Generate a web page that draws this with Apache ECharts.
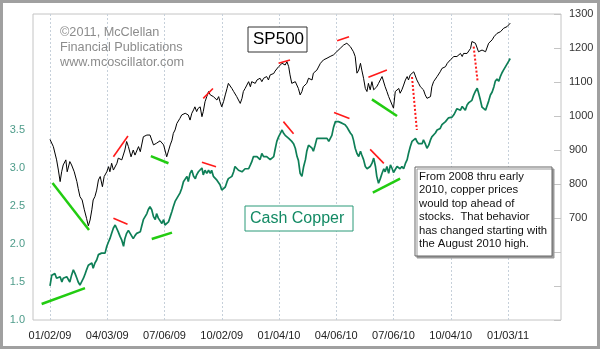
<!DOCTYPE html>
<html><head><meta charset="utf-8">
<script src="https://cdn.jsdelivr.net/npm/echarts@6/dist/echarts.min.js"></script>
<style>html,body{margin:0;padding:0;background:#fff}#c{width:600px;height:349px}</style>
</head><body><div id="c"></div>
<script>
// x = weeks since 01/02/09
const tickWeeks = [0,13,26,39,52,65,78,91,104];
const tickLabels = ['01/02/09','04/03/09','07/06/09','10/02/09','01/04/10','04/06/10','07/06/10','10/04/10','01/03/11'];

const spx500 = [[0,931],[0.76,910],[1.5,871],[1.9,841],[2.3,807],[2.65,836],[3.0,856],[3.6,871],[3.9,836],[4.5,866],[4.9,856],[5.5,836],[6.1,807],[6.4,787],[6.8,763],[7.3,753],[7.8,724],[8.3,699],[8.7,677],[9.1,694],[9.5,724],[9.8,753],[10.2,763],[10.6,782],[11.0,812],[11.4,822],[11.9,792],[12.3,822],[12.9,836],[13.3,851],[13.6,836],[14.0,861],[14.4,841],[15.2,861],[15.5,876],[16.3,871],[17.0,900],[17.4,925],[17.8,910],[18.4,880],[18.9,900],[19.3,885],[20.1,910],[20.5,895],[21.2,939],[22.0,944],[22.7,944],[23.5,915],[24.2,920],[25.0,927],[25.8,915],[26.5,880],[26.9,885],[27.3,915],[27.7,929],[28.0,949],[28.4,959],[28.8,978],[29.2,983],[29.5,993],[29.9,1003],[30.3,998],[30.7,1008],[31.1,1013],[31.4,1003],[31.8,988],[32.2,1008],[32.6,1018],[32.9,1027],[33.3,1013],[33.6,1022],[34.1,1027],[34.5,998],[34.8,1013],[35.2,1042],[35.6,1057],[36.0,1072],[36.4,1062],[36.7,1067],[37.1,1057],[37.5,1062],[37.9,1047],[38.3,1057],[38.6,1042],[39.0,1027],[39.4,1042],[39.8,1062],[40.2,1081],[40.5,1096],[40.9,1096],[41.3,1081],[41.7,1072],[42.0,1067],[42.4,1057],[42.8,1047],[43.2,1037],[43.6,1052],[43.9,1072],[44.3,1081],[44.7,1091],[45.1,1101],[45.5,1086],[45.8,1101],[46.2,1106],[46.6,1096],[47.0,1106],[47.3,1101],[47.7,1111],[48.1,1101],[48.5,1111],[48.9,1106],[49.2,1116],[49.6,1106],[50.0,1121],[50.4,1116],[50.8,1125],[51.1,1132],[51.5,1127],[51.9,1145],[52.3,1150],[52.7,1155],[53.4,1150],[53.8,1160],[54.2,1145],[54.5,1121],[54.9,1096],[55.3,1091],[55.7,1101],[56.1,1096],[56.4,1081],[56.8,1062],[57.2,1072],[57.5,1086],[58.3,1096],[58.7,1111],[59.5,1106],[59.8,1126],[60.6,1135],[61.4,1155],[62.1,1165],[62.9,1170],[63.6,1175],[64.4,1180],[65.1,1189],[65.9,1199],[66.7,1209],[67.4,1214],[67.8,1217],[68.2,1204],[68.5,1209],[68.9,1189],[69.3,1175],[69.7,1126],[70.1,1135],[70.5,1155],[70.8,1135],[71.2,1111],[71.6,1081],[71.97,1072],[72.3,1096],[72.7,1077],[73.1,1101],[73.5,1077],[73.9,1072],[74.2,1086],[74.6,1096],[75.0,1106],[75.4,1116],[75.8,1111],[76.1,1086],[76.5,1072],[76.9,1057],[77.3,1055],[77.7,1032],[78.0,1023],[78.4,1072],[78.8,1077],[79.2,1081],[79.5,1067],[79.9,1077],[80.3,1091],[80.7,1106],[81.1,1116],[81.4,1106],[81.8,1121],[82.2,1121],[82.6,1130],[82.9,1126],[83.3,1106],[83.7,1096],[84.1,1086],[84.5,1091],[84.8,1077],[85.2,1062],[85.6,1052],[86.0,1049],[86.4,1057],[86.7,1086],[87.1,1101],[87.5,1096],[87.9,1116],[88.3,1111],[88.6,1130],[89.0,1140],[89.4,1135],[89.8,1145],[90.2,1155],[90.5,1150],[90.9,1165],[91.3,1165],[91.7,1175],[92.1,1170],[92.4,1175],[92.8,1180],[93.2,1184],[93.6,1175],[93.9,1184],[94.3,1186],[94.7,1184],[95.1,1189],[95.5,1199],[95.8,1219],[96.2,1224],[96.6,1214],[97.0,1209],[97.3,1189],[97.7,1184],[98.1,1194],[98.5,1194],[98.9,1189],[99.2,1184],[99.6,1214],[100.0,1219],[100.4,1224],[100.8,1233],[101.1,1238],[101.5,1243],[101.9,1238],[102.3,1248],[102.7,1253],[103.0,1258],[103.4,1261],[103.8,1263],[104.2,1268],[104.5,1273]];

const cashCopper = [[0,1.45],[0.4,1.59],[0.8,1.57],[1.1,1.61],[1.5,1.55],[1.9,1.53],[2.3,1.57],[2.7,1.50],[3.0,1.55],[3.4,1.53],[3.8,1.57],[4.2,1.53],[4.5,1.50],[4.9,1.59],[5.3,1.66],[5.7,1.61],[6.1,1.55],[6.4,1.50],[6.8,1.46],[7.2,1.48],[7.6,1.55],[8.0,1.61],[8.3,1.66],[8.7,1.72],[9.1,1.70],[9.5,1.75],[9.8,1.68],[10.2,1.75],[10.6,1.79],[11.0,1.86],[11.4,1.88],[11.7,1.88],[12.1,1.86],[12.5,1.88],[12.9,1.97],[13.3,2.03],[13.6,2.07],[14.0,2.14],[14.4,2.21],[14.8,2.25],[15.2,2.23],[15.5,2.16],[15.9,2.10],[16.3,2.05],[16.7,1.97],[17.0,2.07],[17.4,2.14],[17.8,2.18],[18.2,2.14],[18.6,2.10],[18.9,2.07],[19.3,2.11],[19.7,2.14],[20.1,2.12],[20.5,2.16],[20.8,2.23],[21.2,2.32],[21.6,2.36],[22.0,2.40],[22.3,2.45],[22.7,2.49],[23.1,2.45],[23.5,2.36],[23.9,2.32],[24.2,2.40],[24.6,2.34],[25.0,2.36],[25.4,2.27],[25.8,2.32],[26.1,2.25],[26.5,2.23],[26.9,2.29],[27.3,2.36],[27.7,2.43],[28.0,2.49],[28.4,2.56],[28.8,2.60],[29.1,2.62],[29.5,2.67],[29.9,2.73],[30.3,2.82],[30.7,2.84],[31.1,2.89],[31.4,2.82],[31.8,2.93],[32.2,2.97],[32.6,2.89],[33.0,2.86],[33.3,2.91],[33.7,2.95],[34.1,2.93],[34.5,3.00],[34.8,2.91],[35.2,2.97],[35.6,2.93],[36.0,2.97],[36.4,2.93],[36.7,2.97],[37.1,2.89],[37.5,2.91],[37.9,2.84],[38.3,2.82],[38.6,2.78],[39.0,2.71],[39.4,2.69],[39.8,2.75],[40.2,2.82],[40.5,2.86],[40.9,2.84],[41.3,2.89],[41.7,2.95],[42.0,3.02],[42.4,3.04],[42.8,2.97],[43.2,2.99],[43.6,2.95],[43.9,2.97],[44.3,2.99],[44.7,2.97],[45.1,2.99],[45.5,3.04],[45.8,3.08],[46.2,3.15],[46.6,3.17],[47.0,3.15],[47.3,3.13],[47.7,3.11],[48.1,3.19],[48.5,3.15],[48.9,3.13],[49.2,3.15],[49.6,3.13],[50.0,3.11],[50.4,3.13],[50.8,3.15],[51.1,3.24],[51.5,3.35],[51.9,3.41],[52.3,3.43],[52.7,3.50],[53.0,3.46],[53.4,3.43],[53.8,3.41],[54.2,3.39],[54.5,3.39],[54.9,3.35],[55.3,3.32],[55.7,3.26],[56.1,3.15],[56.4,3.10],[56.8,2.93],[57.2,2.89],[57.6,3.02],[58.0,3.11],[58.3,3.22],[58.7,3.30],[59.1,3.32],[59.5,3.26],[59.8,3.22],[60.2,3.30],[60.6,3.39],[61.0,3.41],[61.4,3.39],[61.7,3.41],[62.1,3.39],[62.5,3.37],[62.9,3.39],[63.3,3.35],[63.6,3.37],[64.0,3.43],[64.4,3.54],[64.8,3.61],[65.2,3.63],[65.5,3.61],[65.9,3.63],[66.3,3.59],[66.7,3.61],[67.0,3.57],[67.4,3.54],[67.8,3.50],[68.2,3.46],[68.6,3.43],[68.9,3.37],[69.3,3.26],[69.7,3.19],[70.1,3.15],[70.5,3.22],[70.8,3.17],[71.2,3.11],[71.6,3.02],[72.0,2.99],[72.3,2.97],[72.7,3.02],[73.1,3.06],[73.5,3.13],[73.9,3.02],[74.2,2.89],[74.6,2.80],[75.0,2.86],[75.4,2.93],[75.8,2.99],[76.1,2.95],[76.5,3.02],[76.9,2.93],[77.3,3.04],[77.7,2.99],[78.0,2.94],[78.4,2.96],[78.8,3.02],[79.2,3.04],[79.5,2.99],[79.9,3.02],[80.3,2.99],[80.7,3.06],[81.1,3.11],[81.4,3.19],[81.8,3.28],[82.2,3.35],[82.6,3.37],[83.0,3.39],[83.3,3.35],[83.7,3.32],[84.1,3.30],[84.5,3.32],[84.8,3.37],[85.2,3.32],[85.6,3.26],[86.0,3.30],[86.4,3.37],[86.7,3.41],[87.1,3.43],[87.5,3.46],[87.9,3.50],[88.3,3.48],[88.6,3.52],[89.0,3.57],[89.4,3.59],[89.8,3.61],[90.2,3.63],[90.5,3.66],[90.9,3.68],[91.3,3.67],[91.7,3.70],[92.0,3.72],[92.4,3.78],[92.8,3.79],[93.2,3.76],[93.6,3.81],[93.9,3.80],[94.3,3.76],[94.7,3.83],[95.1,3.86],[95.5,3.84],[95.8,3.89],[96.2,3.96],[96.6,4.01],[97.0,4.05],[97.3,3.99],[97.7,3.90],[98.1,3.80],[98.5,3.80],[98.9,3.76],[99.2,3.75],[99.6,3.88],[100.0,3.96],[100.4,4.00],[100.8,4.07],[101.1,4.14],[101.5,4.17],[101.9,4.14],[102.3,4.21],[102.7,4.26],[103.0,4.29],[103.4,4.30],[103.8,4.37],[104.2,4.41],[104.5,4.44]];

// annotation segments [[week, value], [week, value]]
const spxRedTops = [[[14.4,880],[17.7,941]],[[34.8,1052],[37.0,1081]],[[51.9,1155],[54.5,1165]],[[65.2,1221],[67.9,1233]],[[72.3,1114],[76.5,1135]]];
const spxGreenLows = [[[0.57,803],[8.86,665]],[[22.9,882],[26.9,861]],[[73.1,1049],[78.8,1000]]];
const copperRedTops = [[[14.4,2.34],[17.6,2.26]],[[34.5,3.075],[37.7,3.017]],[[53.0,3.61],[55.3,3.45]],[[64.5,3.73],[68.0,3.65]],[[72.7,3.245],[75.8,3.06]]];
const copperGreenLows = [[[-1.9,1.21],[7.95,1.42]],[[23.1,2.066],[27.7,2.149]],[[73.3,2.675],[79.5,2.86]]];
const peakLinks = [[[82.2,4.197],[83.3,3.50]],[[96.2,4.596],[97.1,4.136]]];

const FONT = '"Liberation Sans", Arial, sans-serif';
const RED = '#ff1a1a', GREEN = '#22cc11';
function segs(list, color, width, type) {
  return list.map(s => [{coord: s[0], lineStyle: {color: color, width: width, type: type}}, {coord: s[1]}]);
}

const chart = echarts.init(document.getElementById('c'));
chart.setOption({
  animation: false,
  grid: {left: 33, right: 39, top: 14, bottom: 29, show: true, borderColor: '#c4c4c4', borderWidth: 1},
  xAxis: {
    type: 'value', min: -3.86, max: 116.03,
    axisLine: {show: false},
    axisTick: {show: false, customValues: tickWeeks},
    axisLabel: {customValues: tickWeeks, formatter: v => { const i = tickWeeks.indexOf(Math.round(v)); return i >= 0 ? tickLabels[i] : ''; },
      color: '#222', fontSize: 11, fontFamily: FONT, margin: 10},
    splitLine: {show: true, lineStyle: {color: '#c6d0da', type: [2, 2], width: 1}}
  },
  yAxis: [
    {type: 'value', position: 'left', min: 1, max: 5.026, interval: 0.5,
      axisLine: {show: false}, axisTick: {show: false}, splitLine: {show: false},
      axisLabel: {color: '#4e9c8a', fontSize: 11, fontFamily: FONT, margin: 8, showMaxLabel: false,
        formatter: v => v <= 3.5001 ? v.toFixed(1) : ''}},
    {type: 'value', position: 'right', min: 400, max: 1300, interval: 100,
      axisLine: {show: false}, splitLine: {show: false},
      axisTick: {show: true, inside: true, length: 7, lineStyle: {color: '#c4c4c4'}},
      axisLabel: {color: '#333', fontSize: 11, fontFamily: FONT, margin: 8,
        formatter: v => v >= 700 ? String(v) : ''}}
  ],
  series: [
    {type: 'line', name: 'Cash Copper', yAxisIndex: 0, data: cashCopper, showSymbol: false, silent: true,
      lineStyle: {color: '#0e7f57', width: 1.7},
      markLine: {silent: true, symbol: ['none', 'none'], label: {show: false}, animation: false,
        data: [].concat(segs(copperRedTops, RED, 1.6, 'solid'), segs(copperGreenLows, GREEN, 2.5, 'solid'), segs(peakLinks, RED, 2, [2, 2]))}},
    {type: 'line', name: 'SP500', yAxisIndex: 1, data: spx500, showSymbol: false, silent: true,
      lineStyle: {color: '#000', width: 1},
      markLine: {silent: true, symbol: ['none', 'none'], label: {show: false}, animation: false,
        data: [].concat(segs(spxRedTops, RED, 1.6, 'solid'), segs(spxGreenLows, GREEN, 2.5, 'solid'))}}
  ],
  graphic: [
    {type: 'rect', z: 100, shape: {x: 1.5, y: 1.5, width: 597, height: 346}, style: {fill: 'none', stroke: '#a0a0a0', lineWidth: 3}},
    {type: 'text', z: 100, x: 60, y: 25, style: {text: '©2011, McClellan\nFinancial Publications\nwww.mcoscillator.com', font: '12.7px ' + FONT, fill: '#8c8c8c', lineHeight: 15, verticalAlign: 'top'}},
    {type: 'rect', z: 100, shape: {x: 248, y: 27, width: 59, height: 25}, style: {fill: '#fff', stroke: '#333', lineWidth: 1}},
    {type: 'text', z: 101, x: 253, y: 39.5, style: {text: 'SP500', font: '17px ' + FONT, fill: '#000', verticalAlign: 'middle'}},
    {type: 'rect', z: 100, shape: {x: 245, y: 206, width: 108, height: 25}, style: {fill: '#fff', stroke: '#2a9a78', lineWidth: 1}},
    {type: 'text', z: 101, x: 250, y: 218.5, style: {text: 'Cash Copper', font: '16px ' + FONT, fill: '#138a64', verticalAlign: 'middle'}},
    {type: 'rect', z: 100, shape: {x: 415, y: 167, width: 137, height: 89}, style: {fill: '#fff', stroke: '#666', lineWidth: 1, shadowColor: '#999', shadowOffsetX: 2, shadowOffsetY: 2, shadowBlur: 0}},
    {type: 'text', z: 101, x: 419, y: 170, style: {text: 'From 2008 thru early\n2010, copper prices\nwould top ahead of\nstocks.  That behavior\nhas changed starting with\nthe August 2010 high.', font: '11.3px ' + FONT, fill: '#111', lineHeight: 13.5, verticalAlign: 'top'}}
  ]
});
</script></body></html>
